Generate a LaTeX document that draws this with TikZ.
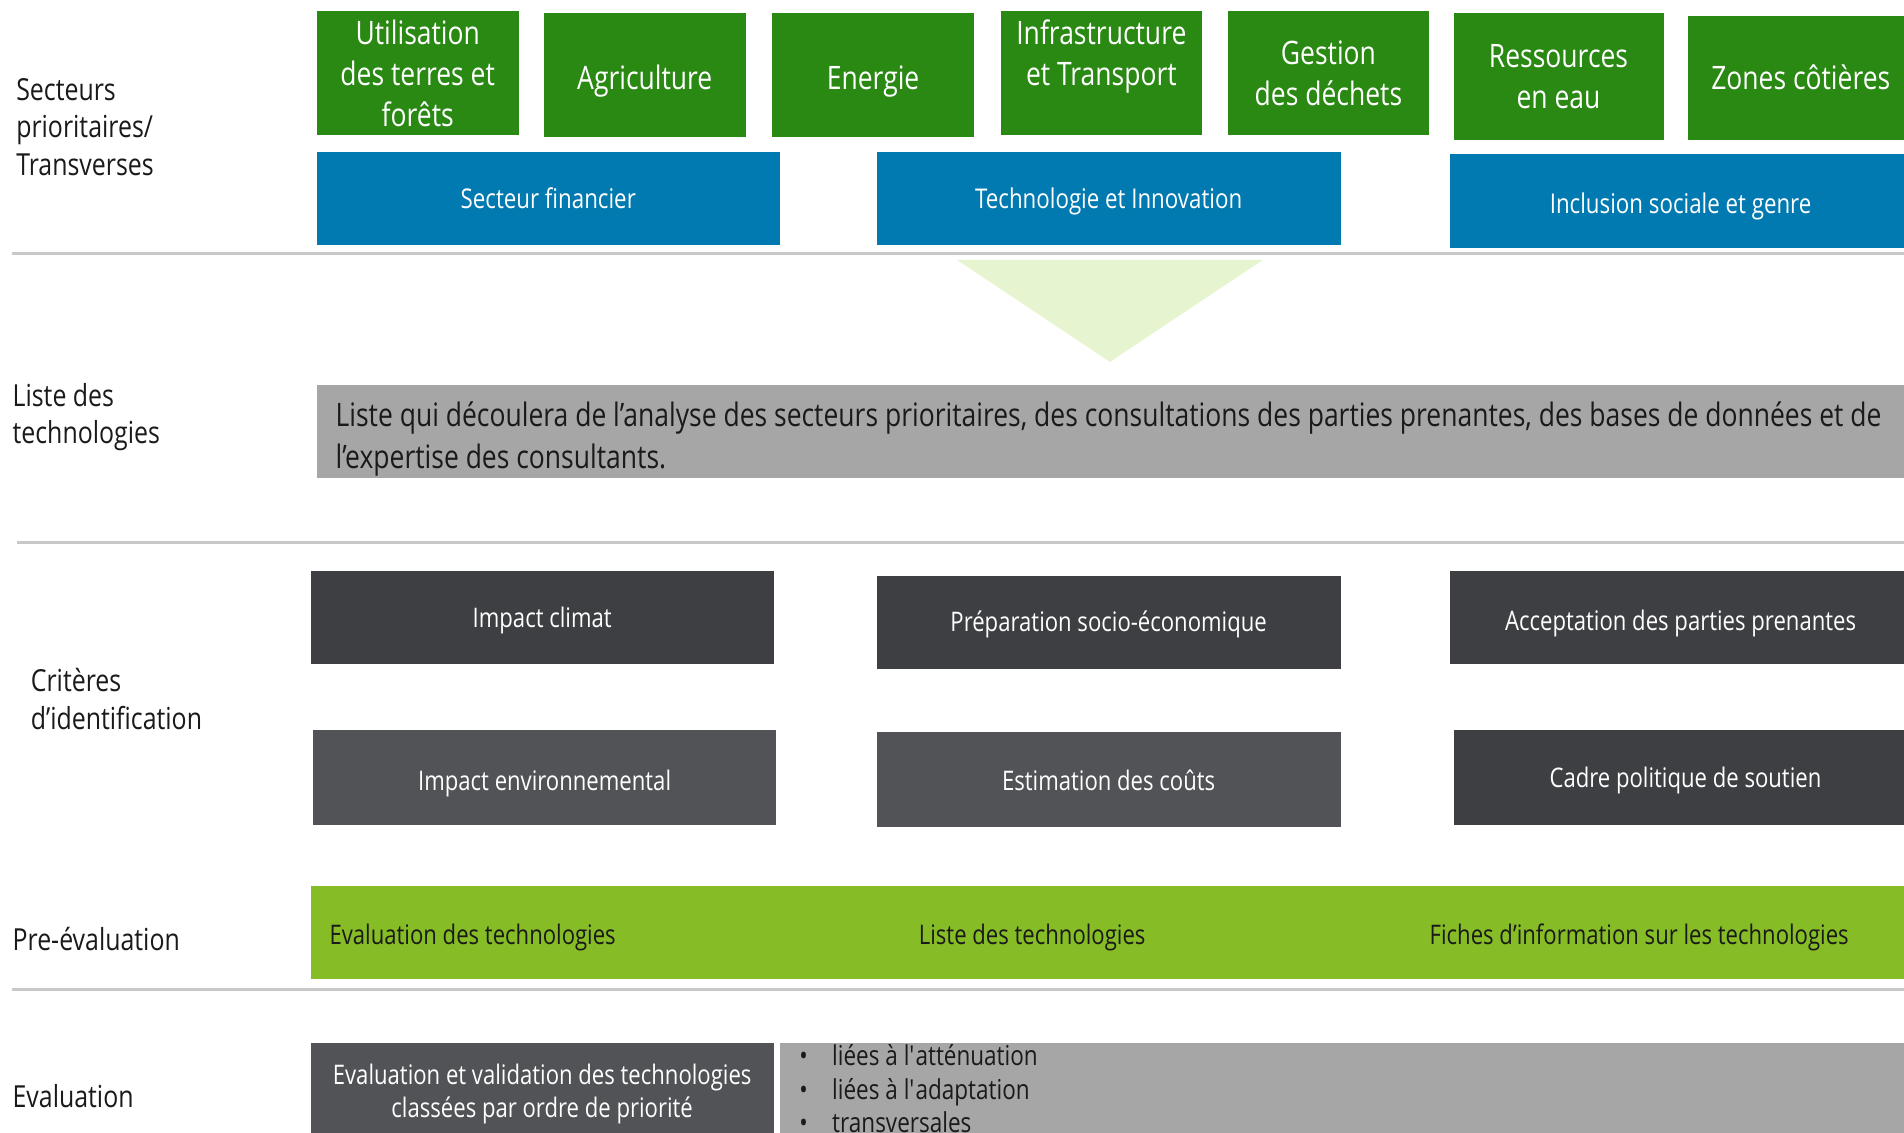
\documentclass[tikz,border=0pt]{standalone}
\usepackage{fontspec}
\setmainfont{Open Sans}[FakeStretch=0.82]
\definecolor{gdark}{HTML}{298912}
\definecolor{bblue}{HTML}{007AB0}
\definecolor{trig}{HTML}{E6F5D0}
\definecolor{gbox}{HTML}{A6A6A6}
\definecolor{dk1}{HTML}{3E3F43}
\definecolor{dk2}{HTML}{515357}
\definecolor{pgreen}{HTML}{86BC25}
\definecolor{ink}{HTML}{1A1A1A}
\definecolor{sepc}{HTML}{C8C8C8}
\newcommand\BOX[7]{\node[anchor=north west, outer sep=0pt, inner sep=2pt, #2,
  minimum width={(#5-#3)*0.5pt}, minimum height={(#6-#4)*0.5pt}] (#1) at (#3,#4) {#7};}
\newcommand\dn[2]{\raisebox{-#1}[\height][\depth]{\begin{tabular}{@{}c@{}}#2\end{tabular}}}
\begin{document}
\begin{tikzpicture}[x=0.5pt,y=-0.5pt,
  sector/.style={fill=gdark, text=white, align=center, inner sep=0pt, font=\fontsize{13.3}{16.9}\selectfont},
  cross/.style={fill=bblue, text=white, align=center, font=\fontsize{11.2}{14}\selectfont},
  crit1/.style={fill=dk1, text=white, align=center, font=\fontsize{11.1}{14}\selectfont},
  crit2/.style={fill=dk2, text=white, align=center, font=\fontsize{11.1}{14}\selectfont},
  listbox/.style={fill=gbox},
  listtext/.style={text=ink, align=left, inner sep=0pt, font=\fontsize{13.3}{17.5}\selectfont},
  pbar/.style={fill=pgreen},
  ptext/.style={text=ink, inner sep=0pt, font=\fontsize{11.1}{13.5}\selectfont},
  evbox/.style={fill=dk2, text=white, align=center, font=\fontsize{11.1}{13.5}\selectfont},
  bullets/.style={text=ink, align=left, inner sep=0pt, font=\fontsize{11.3}{13.75}\selectfont},
  rowlabel/.style={text=ink, align=left, inner sep=0pt, anchor=west, font=\fontsize{12.5}{15.5}\selectfont},
  sepline/.style={draw=sepc, line width=1.3pt},
  arrowtri/.style={fill=trig}]
\clip (0,0) rectangle (1568,933);
\fill[white] (0,0) rectangle (1568,933);

% row labels
\node[rowlabel] (l1) at (13,104.5) {Secteurs\\prioritaires/\\Transverses};
\node[rowlabel] (l2) at (10,343.5) {Liste des\\technologies};
\node[rowlabel] (l3) at (25,575.5) {Critères\\d’identification};
\node[rowlabel] (l4) at (10,773) {Pre-évaluation};
\node[rowlabel] (l5) at (10,903) {Evaluation};

% sectors
\BOX{s1}{sector}{261}{9}{427}{111}{\dn{2pt}{Utilisation\\des terres et\\forêts}}
\BOX{s2}{sector}{448}{11}{614}{113}{\dn{2.5pt}{Agriculture}}
\BOX{s3}{sector}{636}{11}{802}{113}{\dn{2.5pt}{Energie}}
\BOX{s4}{sector}{824}{9}{990}{111}{\dn{-6.5pt}{Infrastructure\\et Transport}}
\BOX{s5}{sector}{1011}{9}{1177}{111}{\dn{1.5pt}{Gestion\\des déchets}}
\BOX{s6}{sector}{1197}{11}{1370}{115}{\dn{1.5pt}{Ressources\\en eau}}
\BOX{s7}{sector}{1390}{13}{1576}{115}{Zones côtières}

% cross-cutting
\BOX{c1}{cross}{261}{125}{642}{202}{Secteur financier}
\BOX{c2}{cross}{722}{125}{1104}{202}{\dn{1.5pt}{Technologie et Innovation}}
\BOX{c3}{cross}{1194}{127}{1574}{204}{\dn{2.5pt}{Inclusion sociale et genre}}

\draw[sepline] (10,209) -- (1568,209);

% funnel triangle
\fill[arrowtri] (788,214) -- (1040,214) -- (914,298) -- cycle;

% list of technologies
\BOX{lb}{listbox}{261}{317}{1580}{394}{}
\node[listtext, anchor=west] (lt) at (276,361.5) {Liste qui découlera de l’analyse des secteurs prioritaires, des consultations des parties prenantes, des bases de données et de\\l’expertise des consultants.};

\draw[sepline] (14,447) -- (1568,447);

% criteria
\BOX{k1}{crit1}{256}{470}{637}{547}{\dn{1.5pt}{Impact climat}}
\BOX{k2}{crit1}{722}{474}{1104}{551}{\dn{1pt}{Préparation socio-économique}}
\BOX{k3}{crit1}{1194}{470}{1574}{547}{\dn{2.5pt}{Acceptation des parties prenantes}}
\BOX{k4}{crit2}{258}{601}{639}{679}{\dn{2.5pt}{Impact environnemental}}
\BOX{k5}{crit2}{722}{603}{1104}{681}{\dn{1.5pt}{Estimation des coûts}}
\BOX{k6}{crit1}{1197}{601}{1579}{679}{\dn{1.5pt}{Cadre politique de soutien}}

% pre-evaluation
\BOX{pb}{pbar}{256}{730}{1580}{806}{}
\node[ptext, anchor=west] (p1) at (271,772) {Evaluation des technologies};
\node[ptext] (p2) at (850,772) {Liste des technologies};
\node[ptext, anchor=west] (p3) at (1177,772) {Fiches d’information sur les technologies};

\draw[sepline] (10,815) -- (1568,815);

% evaluation
\BOX{e1}{evbox}{256}{859}{637}{960}{\dn{-4.25pt}{Evaluation et validation des technologies\\classées par ordre de priorité}}
\BOX{e2}{listbox}{642}{859}{1580}{960}{}
\node[bullets, anchor=north west] (eb) at (658,858) {\begin{tabular}{@{}l@{\hspace{10pt}}l@{}}•&liées à l\textquotesingle atténuation\\•&liées à l\textquotesingle adaptation\\•&transversales\end{tabular}};
\end{tikzpicture}
\end{document}
